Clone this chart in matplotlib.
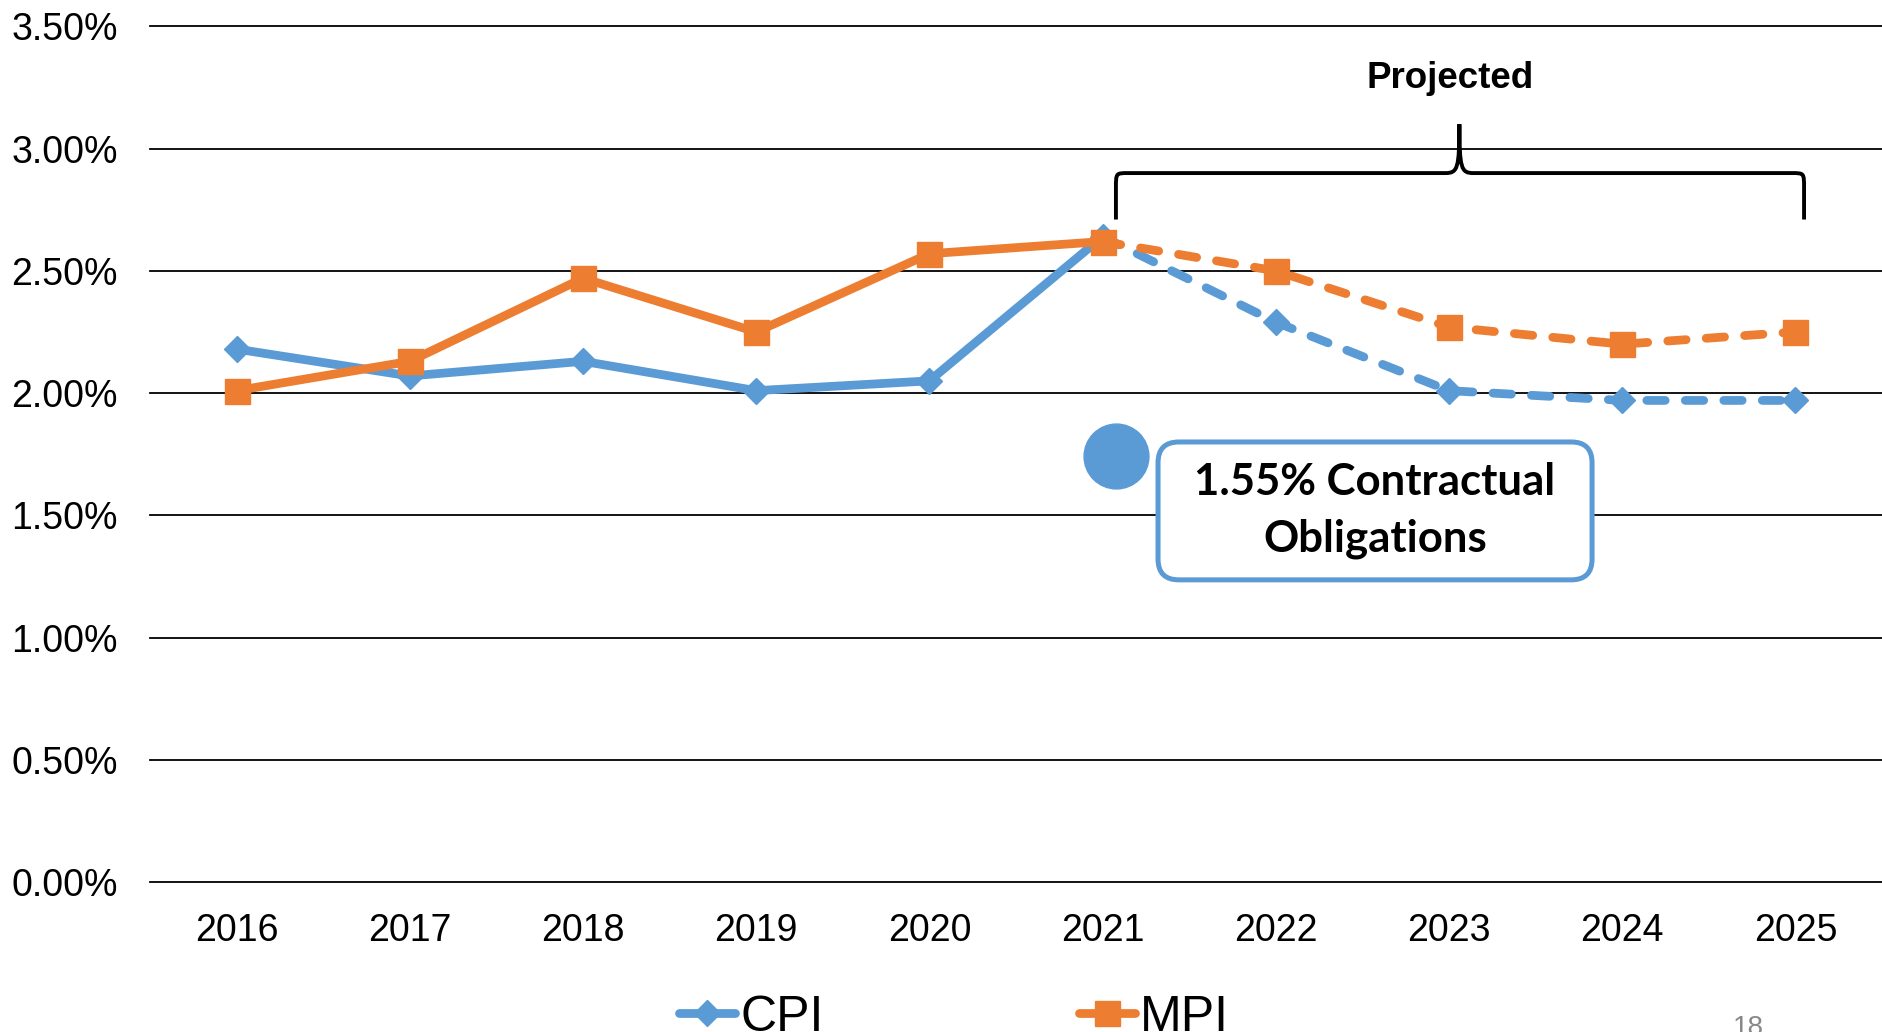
import numpy as np
import matplotlib.pyplot as plt
from matplotlib.patches import FancyBboxPatch, PathPatch
from matplotlib.path import Path
from matplotlib.lines import Line2D

# data
years = ['2016', '2017', '2018', '2019', '2020', '2021', '2022', '2023', '2024', '2025']
cpi = [2.18, 2.07, 2.13, 2.01, 2.05, 2.64, 2.29, 2.01, 1.97, 1.97]
mpi = [2.01, 2.13, 2.47, 2.25, 2.57, 2.62, 2.50, 2.27, 2.20, 2.25]
proj_start = 5  # 2021 onwards is projected
yticks = [0.0, 0.5, 1.0, 1.5, 2.0, 2.5, 3.0, 3.5]

blue = '#5B9BD5'
orange = '#ED7D31'

plt.rcParams['font.family'] = ['Liberation Sans', 'DejaVu Sans']

fig = plt.figure(figsize=(18.82, 10.32), dpi=100)
ax = fig.add_axes([150 / 1882, 150 / 1032, 1732 / 1882, 855.6 / 1032])
x = np.arange(len(years))

lw = 6.3
dash = (2.1, 2.3)
for vals, col, mk, ms, z in [(cpi, blue, 'D', 13, 3), (mpi, orange, 's', 18, 4)]:
    ax.plot(x[:proj_start + 1], vals[:proj_start + 1], color=col, lw=lw, zorder=z,
            solid_capstyle='round')
    ax.plot(x[proj_start:], vals[proj_start:], color=col, lw=lw, zorder=z,
            dashes=dash, dash_capstyle='round')
    ax.plot(x, vals, ls='none', marker=mk, ms=ms, color=col, zorder=z)

ax.set_xlim(-0.5, len(years) - 0.5)
ax.set_ylim(0, 3.5)
ax.set_xticks(x)
ax.set_xticklabels(years)
ax.set_yticks(yticks)
ax.set_yticklabels(['{:.2f}%'.format(v) for v in yticks])
ax.tick_params(axis='both', length=0, labelsize=27)
ax.tick_params(axis='y', pad=23)
ax.tick_params(axis='x', pad=22)
ax.yaxis.grid(True, color='black', lw=1.3)
for gl in ax.get_ygridlines():
    gl.set_clip_on(False)
ax.set_axisbelow(True)
for s in ax.spines.values():
    s.set_visible(False)

# "Projected" brace
L, R, C = proj_start + 0.077, len(years) - 1 + 0.05, 7.06
yb, yh, yp = 2.71, 2.90, 3.10
verts = [(L, yb), (L, yh - 0.06),
         (L, yh), (L, yh), (L + 0.07, yh),
         (C - 0.08, yh),
         (C - 0.01, yh), (C, yh + 0.02), (C, yp),
         (C, yh + 0.02), (C + 0.01, yh), (C + 0.08, yh),
         (R - 0.07, yh),
         (R, yh), (R, yh), (R, yh - 0.06),
         (R, yb)]
codes = [Path.MOVETO, Path.LINETO,
         Path.CURVE4, Path.CURVE4, Path.CURVE4,
         Path.LINETO,
         Path.CURVE4, Path.CURVE4, Path.CURVE4,
         Path.CURVE4, Path.CURVE4, Path.CURVE4,
         Path.LINETO,
         Path.CURVE4, Path.CURVE4, Path.CURVE4,
         Path.LINETO]
ax.add_patch(PathPatch(Path(verts, codes), fill=False, lw=2.8, color='black',
                       clip_on=False, zorder=5))
ax.text(7.006, 3.285, 'Projected', ha='center', va='center', fontsize=26.5,
        fontweight='bold')

# contractual note
ax.plot(L, 1.743, 'o', ms=46.7, color=blue, zorder=5)
box = FancyBboxPatch((5.32, 1.236), 2.506, 0.564,
                     boxstyle='round,pad=0,rounding_size=0.12', mutation_aspect=0.709,
                     fc='white', ec=blue, lw=3.6, zorder=5)
ax.add_patch(box)
ax.text(6.573, 1.52, '1.55% Contractual\nObligations', ha='center', va='center',
        fontsize=31.5, fontweight='bold', family=['Lato', 'DejaVu Sans'],
        linespacing=1.5, zorder=6)

# legend at bottom (partly cut off)
handles = [Line2D([], [], color=blue, lw=lw, marker='D', ms=13, solid_capstyle='round'),
           Line2D([], [], color=orange, lw=lw, marker='s', ms=18, solid_capstyle='round')]
fig.legend(handles, ['CPI', 'MPI'], loc='center', bbox_to_anchor=(0.507, 0.014), ncol=2,
           frameon=False, fontsize=36, handlelength=1.12, handletextpad=0.1,
           columnspacing=5.1, borderpad=0, borderaxespad=0)

fig.text(1748 / 1882, 0.0165, '18', color='#888888', fontsize=20, ha='center', va='top')

fig.savefig('out.png', dpi=100)
